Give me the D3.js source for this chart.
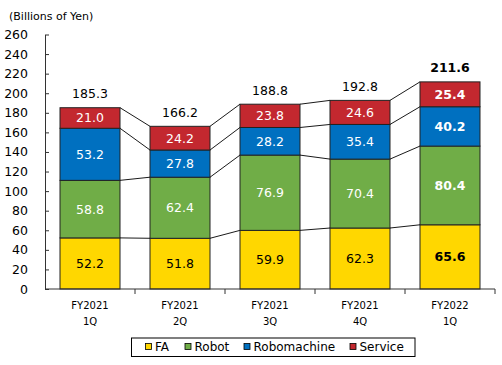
<!DOCTYPE html>
<html><head><meta charset="utf-8">
<script src="https://cdn.jsdelivr.net/npm/d3@7"></script>
<style>body{margin:0;background:#fff}svg{display:block;font-family:"DejaVu Sans",Verdana,sans-serif}</style>
</head><body>
<svg id="c" width="502" height="365"></svg>
<script>
const categories = ["FY2021\n1Q","FY2021\n2Q","FY2021\n3Q","FY2021\n4Q","FY2022\n1Q"];
const seriesNames = ["FA","Robot","Robomachine","Service"];
const fa = [52.2,51.8,59.9,62.3,65.6];
const robot = [58.8,62.4,76.9,70.4,80.4];
const robomachine = [53.2,27.8,28.2,35.4,40.2];
const service = [21.0,24.2,23.8,24.6,25.4];
const totals = [185.3,166.2,188.8,192.8,211.6];
const yTicks = [0,20,40,60,80,100,120,140,160,180,200,220,240,260];
const colors = ["#FFD700","#70AD47","#0070C0","#C3282F"];
const labelColors = ["#000","#fff","#fff","#fff"];

const svg = d3.select("#c");
const m = {l:45,r:495,t:34.5,b:289};
const x = d3.scaleBand().domain(categories).range([m.l,m.r]).paddingInner(0.3333).paddingOuter(0.1667);
const y = d3.scaleLinear().domain([0,260]).range([m.b,m.t]);

const rows = categories.map((c,i)=>({cat:c,FA:fa[i],Robot:robot[i],Robomachine:robomachine[i],Service:service[i]}));
const stacked = d3.stack().keys(seriesNames)(rows);

// connector lines
const last = categories.length-1;
stacked.forEach(s=>{
  for(let i=0;i<last;i++){
    svg.append("line")
      .attr("x1",x(categories[i])+x.bandwidth()).attr("y1",y(s[i][1]))
      .attr("x2",x(categories[i+1])).attr("y2",y(s[i+1][1]))
      .attr("stroke","#000").attr("stroke-width",0.9);
  }
});
// bottom boundary connectors (base)
// bars
stacked.forEach((s,si)=>{
  svg.append("g").selectAll("rect").data(s).join("rect")
    .attr("x",d=>x(d.data.cat)).attr("width",x.bandwidth())
    .attr("y",d=>y(d[1])).attr("height",d=>y(d[0])-y(d[1]))
    .attr("fill",colors[si]).attr("stroke","#222").attr("stroke-width",1);
  svg.append("g").selectAll("text").data(s).join("text")
    .attr("x",d=>x(d.data.cat)+x.bandwidth()/2)
    .attr("y",d=>(y(d[0])+y(d[1]))/2)
    .attr("dy","0.36em").attr("text-anchor","middle")
    .attr("font-size",12.5).attr("fill",labelColors[si])
    .attr("font-weight",(d,i)=>i===last?"bold":"normal")
    .text(d=>(d[1]-d[0]).toFixed(1));
});
// totals
svg.append("g").selectAll("text").data(totals).join("text")
  .attr("x",(d,i)=>x(categories[i])+x.bandwidth()/2)
  .attr("y",(d,i)=>y(stacked[3][i][1])-14)
  .attr("dy","0.36em").attr("text-anchor","middle")
  .attr("font-size",12.5).attr("fill","#000")
  .attr("font-weight",(d,i)=>i===last?"bold":"normal")
  .text(d=>d.toFixed(1));

// y axis
const ya = svg.append("g").attr("transform",`translate(${m.l},0)`)
  .call(d3.axisLeft(y).tickValues(yTicks).tickSize(0).tickPadding(17));
ya.select(".domain").attr("stroke","#333");
ya.selectAll("text").attr("font-size",12.5).attr("fill","#000").attr("font-family","DejaVu Sans, sans-serif");
ya.selectAll(".tick").append("line").attr("x1",0).attr("x2",4).attr("stroke","#333");

// x axis
const xa = svg.append("g").attr("transform",`translate(0,${m.b})`);
xa.append("line").attr("x1",m.l).attr("x2",m.r).attr("stroke","#333");
const bounds = categories.map((c,i)=>m.l+(i+1)*(m.r-m.l)/categories.length);
xa.selectAll("line.t").data(bounds).join("line").attr("class","t")
  .attr("x1",d=>d).attr("x2",d=>d).attr("y1",0).attr("y2",5).attr("stroke","#333");
const xl = xa.selectAll("text").data(categories).join("text")
  .attr("x",d=>x(d)+x.bandwidth()/2).attr("text-anchor","middle")
  .attr("font-size",10).attr("fill","#000");
xl.selectAll("tspan").data(d=>d.split("\n")).join("tspan")
  .attr("x",function(){return this.parentNode.getAttribute("x");})
  .attr("y",(d,i)=>i===0?19.5:35.5).text(d=>d);

// unit label
svg.append("text").attr("x",9).attr("y",19.5).attr("font-size",11).attr("fill","#000").text("(Billions of Yen)");

// legend
const lg = svg.append("g");
lg.append("rect").attr("x",131.5).attr("y",338).attr("width",283.5).attr("height",18.5)
  .attr("fill","#fff").attr("stroke","#000").attr("stroke-width",1);
const lx = [145.5,185,244,350];
seriesNames.forEach((n,i)=>{
  lg.append("rect").attr("x",lx[i]).attr("y",343.5).attr("width",6).attr("height",6)
    .attr("fill",colors[i]).attr("stroke","#000").attr("stroke-width",0.8);
  lg.append("text").attr("x",lx[i]+9.5).attr("y",347).attr("dy","0.36em")
    .attr("font-size",12).attr("fill","#000").text(n);
});
</script>
</body></html>
